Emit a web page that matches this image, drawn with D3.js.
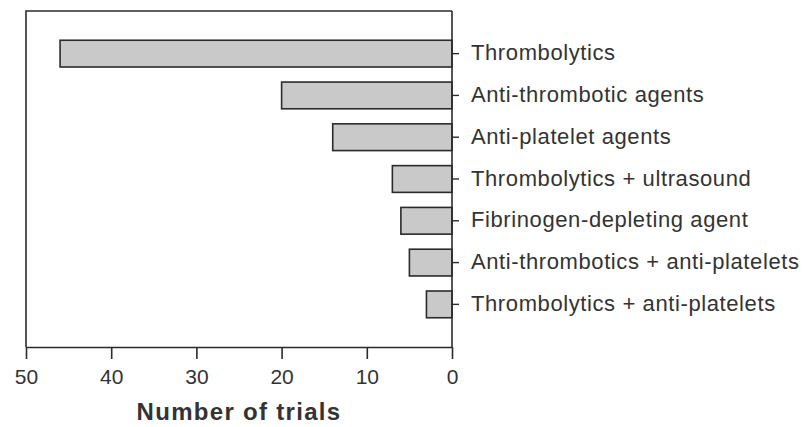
<!DOCTYPE html>
<html>
<head>
<meta charset="utf-8">
<script src="https://cdn.jsdelivr.net/npm/d3@7.9.0/dist/d3.min.js"></script>
<style>
  body { margin: 0; background: #fff; }
  svg { display: block; }
  text { font-family: Arial, "Liberation Sans", sans-serif; fill: #333; }
</style>
</head>
<body>
<div id="vis"></div>
<script>
// categories, top to bottom
const categories = [
  'Thrombolytics',
  'Anti-thrombotic agents',
  'Anti-platelet agents',
  'Thrombolytics + ultrasound',
  'Fibrinogen-depleting agent',
  'Anti-thrombotics + anti-platelets',
  'Thrombolytics + anti-platelets'
];
const trials = [46, 20, 14, 7, 6, 5, 3];
const xTicks = [50, 40, 30, 20, 10, 0];

const W = 806, H = 427;
const plotL = 26, plotR = 452, plotT = 11, plotB = 347;

const svg = d3.select('#vis').append('svg')
    .attr('width', W).attr('height', H);

const x = d3.scaleLinear().domain([50, 0]).range([plotL, plotR]);
const y = d3.scaleBand().domain(categories)
    .range([plotT, plotB])
    .paddingInner(0.36)
    .paddingOuter(0.7);

const data = categories.map((c, i) => ({ cat: c, n: trials[i] }));

// bars
svg.append('g').selectAll('rect')
  .data(data)
  .join('rect')
    .attr('x', d => x(d.n))
    .attr('y', d => y(d.cat))
    .attr('width', d => x(0) - x(d.n))
    .attr('height', y.bandwidth())
    .attr('fill', '#c9c9c9')
    .attr('stroke', '#2b2b2b')
    .attr('stroke-width', 1.6);

// frame: top and left
svg.append('path')
    .attr('d', `M${plotR},${plotT}H${plotL}V${plotB}`)
    .attr('fill', 'none')
    .attr('stroke', '#2b2b2b')
    .attr('stroke-width', 1.6);

// right axis with labels
const yAxis = svg.append('g')
    .attr('transform', `translate(${plotR},0)`)
    .call(d3.axisRight(y).tickSize(7).tickPadding(12).tickSizeOuter(0));
yAxis.select('.domain').remove();
yAxis.append('line')
    .attr('y1', plotT).attr('y2', plotB)
    .attr('stroke', '#2b2b2b').attr('stroke-width', 1.6);
yAxis.selectAll('.tick line').attr('stroke', '#2b2b2b').attr('stroke-width', 1.4);
yAxis.selectAll('.tick text')
    .attr('font-size', 22)
    .attr('letter-spacing', 0.6)
    .attr('fill', '#333')
    .attr('dy', '0.3em');

// bottom axis
const xAxis = svg.append('g')
    .attr('transform', `translate(0,${plotB})`)
    .call(d3.axisBottom(x).tickValues(xTicks).tickSize(12).tickPadding(10).tickSizeOuter(0));
xAxis.select('.domain').attr('stroke', '#2b2b2b').attr('stroke-width', 1.6);
xAxis.selectAll('.tick line').attr('stroke', '#2b2b2b').attr('stroke-width', 1.6);
xAxis.selectAll('.tick text')
    .attr('font-size', 21)
    .attr('fill', '#333');

// axis title
svg.append('text')
    .attr('x', (plotL + plotR) / 2)
    .attr('y', 420)
    .attr('text-anchor', 'middle')
    .attr('font-size', 24)
    .attr('font-weight', 'bold')
    .attr('letter-spacing', 1.3)
    .text('Number of trials');
</script>
</body>
</html>
